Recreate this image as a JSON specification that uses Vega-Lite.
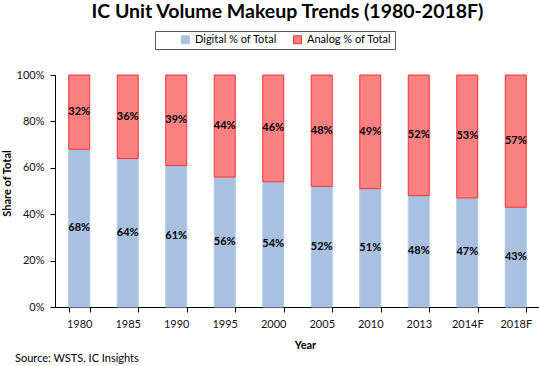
{
  "$schema": "https://vega.github.io/schema/vega-lite/v6.json",
  "padding": {"left": 1, "top": 1, "right": 0, "bottom": 2},
  "background": "white",
  "config": {"font": "Lato", "view": {"stroke": null}, "concat": {"spacing": 0}},
  "title": {"text": "Source: WSTS, IC Insights", "orient": "bottom", "anchor": "start", "frame": "bounds", "fontSize": 11, "fontWeight": "normal", "color": "#000", "offset": 3, "dx": 14},
  "vconcat": [
    {
      "width": 485,
      "height": 232,
      "title": {"text": "IC Unit Volume Makeup Trends (1980-2018F)", "anchor": "middle", "frame": "group", "fontSize": 19.5, "fontWeight": "bold", "color": "#000", "offset": 47, "dx": -10},
      "data": {
        "values": [
          {"year": "1980", "series": "Digital % of Total", "share": 0.68},
          {"year": "1980", "series": "Analog % of Total", "share": 0.32},
          {"year": "1985", "series": "Digital % of Total", "share": 0.64},
          {"year": "1985", "series": "Analog % of Total", "share": 0.36},
          {"year": "1990", "series": "Digital % of Total", "share": 0.61},
          {"year": "1990", "series": "Analog % of Total", "share": 0.39},
          {"year": "1995", "series": "Digital % of Total", "share": 0.56},
          {"year": "1995", "series": "Analog % of Total", "share": 0.44},
          {"year": "2000", "series": "Digital % of Total", "share": 0.54},
          {"year": "2000", "series": "Analog % of Total", "share": 0.46},
          {"year": "2005", "series": "Digital % of Total", "share": 0.52},
          {"year": "2005", "series": "Analog % of Total", "share": 0.48},
          {"year": "2010", "series": "Digital % of Total", "share": 0.51},
          {"year": "2010", "series": "Analog % of Total", "share": 0.49},
          {"year": "2013", "series": "Digital % of Total", "share": 0.48},
          {"year": "2013", "series": "Analog % of Total", "share": 0.52},
          {"year": "2014F", "series": "Digital % of Total", "share": 0.47},
          {"year": "2014F", "series": "Analog % of Total", "share": 0.53},
          {"year": "2018F", "series": "Digital % of Total", "share": 0.43},
          {"year": "2018F", "series": "Analog % of Total", "share": 0.57}
        ]
      },
      "transform": [
        {"stack": "share", "groupby": ["year"], "sort": [{"field": "series", "order": "descending"}], "as": ["y0", "y1"]}
      ],
      "encoding": {
        "x": {
          "field": "year", "type": "ordinal", "sort": null,
          "scale": {"paddingInner": 0.567, "paddingOuter": 0.283},
          "axis": {"tickBand": "extent", "labelAngle": 0, "domainColor": "#000", "tickColor": "#000", "tickSize": 5, "labelFontSize": 11, "labelColor": "#111", "labelPadding": 6, "title": "Year", "titleFontSize": 11, "titleFontWeight": "bold", "titleColor": "#000", "titlePadding": 10, "titleX": 250}
        }
      },
      "layer": [
        {
          "mark": {"type": "bar", "strokeWidth": 1},
          "encoding": {
            "y": {"field": "y1", "type": "quantitative", "scale": {"domain": [0, 1]},
              "axis": {"format": ".0%", "values": [0, 0.2, 0.4, 0.6, 0.8, 1], "grid": false, "domainColor": "#000", "tickColor": "#000", "tickSize": 5, "labelFontSize": 11, "labelColor": "#111", "labelPadding": 6, "title": "Share of Total", "titleFontSize": 11, "titleFontWeight": "bold", "titleColor": "#000", "titlePadding": 4, "titleY": 108}},
            "y2": {"field": "y0"},
            "fill": {"field": "series", "type": "nominal",
              "scale": {"domain": ["Digital % of Total", "Analog % of Total"], "range": ["#a9c1e1", "#f98181"]},
              "legend": {"orient": "none", "legendX": 100, "legendY": -44, "direction": "horizontal", "title": "\u00a0", "titleOrient": "left", "titlePadding": 22, "titleFontSize": 11, "strokeColor": "#555", "padding": 3, "symbolType": "square", "symbolSize": 64, "symbolStrokeWidth": 1, "labelFontSize": 11, "labelColor": "#000", "columnPadding": 14}},
            "stroke": {"field": "series", "type": "nominal",
              "scale": {"domain": ["Digital % of Total", "Analog % of Total"], "range": ["#b3c8e6", "#ff3333"]},
              "legend": {"orient": "none", "legendX": 100, "legendY": -44, "direction": "horizontal", "title": "\u00a0", "titleOrient": "left", "titlePadding": 22, "titleFontSize": 11, "strokeColor": "#555", "padding": 3, "symbolType": "square", "symbolSize": 64, "symbolStrokeWidth": 1, "labelFontSize": 11, "labelColor": "#000", "columnPadding": 14}}
          }
        },
        {
          "transform": [
            {"fold": ["y0", "y1"], "as": ["edge", "pos"]},
            {"aggregate": [{"op": "mean", "field": "pos", "as": "mid"}], "groupby": ["year", "series", "share"]}
          ],
          "mark": {"type": "text", "fontWeight": "bold", "fontSize": 11, "color": "#000"},
          "encoding": {
            "y": {"field": "mid", "type": "quantitative"},
            "text": {"field": "share", "type": "quantitative", "format": ".0%"}
          }
        }
      ]
    }
  ]
}
